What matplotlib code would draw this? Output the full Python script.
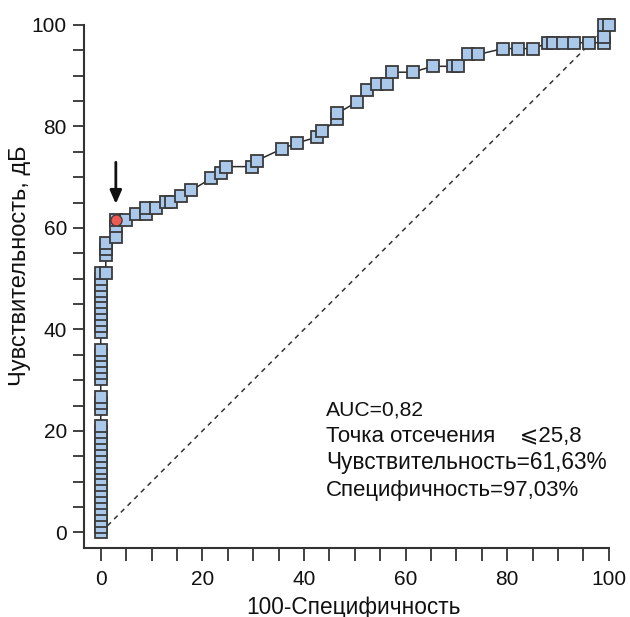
import matplotlib
matplotlib.use("Agg")
import matplotlib.pyplot as plt
from matplotlib.ticker import MultipleLocator

plt.rcParams['font.family'] = ['Liberation Sans', 'DejaVu Sans']

# ROC points (100-Specificity, Sensitivity)
fpr = [0]*19 + [0]*3 + [0]*6 + [0]*11 + [
    0.99, 0.99, 0.99, 0.99, 2.97, 2.97, 2.97, 4.95, 6.93, 8.91, 8.91, 10.89,
    12.87, 13.86, 15.84, 17.82, 21.78, 23.76, 24.75, 29.70, 30.69, 35.64,
    38.61, 42.57, 43.56, 46.53, 46.53, 50.50, 52.48, 54.46, 56.44, 57.43,
    61.39, 65.35, 69.31, 70.30, 72.28, 74.26, 79.21, 82.18, 85.15, 88.12,
    89.11, 91.09, 93.07, 96.04, 99.01, 99.01, 99.01, 100.0]
tpr = [0.00, 1.16, 2.33, 3.49, 4.65, 5.81, 6.98, 8.14, 9.30, 10.47, 11.63,
       12.79, 13.95, 15.12, 16.28, 17.44, 18.60, 19.77, 20.93,
       24.42, 25.58, 26.74,
       30.23, 31.40, 32.56, 33.72, 34.88, 36.05,
       39.53, 40.70, 41.86, 43.02, 44.19, 45.35, 46.51, 47.67, 48.84, 50.00, 51.16,
       51.16, 54.65, 55.81, 56.98, 58.14, 60.47, 61.63, 61.63, 62.79, 62.79,
       63.95, 63.95, 65.12, 65.12, 66.28, 67.44, 69.77, 70.93, 72.09, 72.09,
       73.26, 75.58, 76.74, 77.91, 79.07, 81.40, 82.56, 84.88, 87.21, 88.37,
       88.37, 90.70, 90.70, 91.86, 91.86, 91.86, 94.19, 94.19, 95.35, 95.35,
       95.35, 96.51, 96.51, 96.51, 96.51, 96.51, 96.51, 97.67, 100.0, 100.0]

cut_x = [2.97]
cut_y = [61.63]

x_ticks = [0, 20, 40, 60, 80, 100]
y_ticks = [0, 20, 40, 60, 80, 100]

stats_lines = ["AUC=0,82",
               "Точка отсечения    \u2a7d25,8",
               "Чувствительность=61,63%",
               "Специфичность=97,03%"]
stats_sizes = [15.2, 16.0, 16.3, 16.0]
stats_baselines = [23.1, 17.8, 12.5, 7.2]

fig = plt.figure(figsize=(6.3, 6.17), dpi=100)
ax = fig.add_axes([0.1333, 0.1123, 0.9662 - 0.1333, 0.9595 - 0.1123])

ax.plot([0, 100], [0, 100], linestyle=(0, (3.2, 3)), color='#333333', lw=1.1, zorder=1)
ax.plot(fpr, tpr, color='#2a2a2a', lw=1.1, marker='s', markersize=8.6,
        markerfacecolor='#a9c8ea', markeredgecolor='#3a3a3a', markeredgewidth=1.3,
        zorder=2, clip_on=False)
ax.plot(cut_x, cut_y, linestyle='none', marker='o', markersize=8,
        markerfacecolor='#ee5b55', markeredgecolor='#4a3a3a', markeredgewidth=1.0,
        zorder=3)

ax.annotate('', xy=(cut_x[0], 64.2), xytext=(cut_x[0], 73.5),
            arrowprops=dict(arrowstyle='-|>,head_length=0.8,head_width=0.35',
                            color='#111111', lw=2.0), zorder=4)

ax.set_xlim(-3.3, 100)
ax.set_ylim(-3.0, 100)
ax.set_xticks(x_ticks)
ax.set_yticks(y_ticks)
ax.xaxis.set_minor_locator(MultipleLocator(5))
ax.yaxis.set_minor_locator(MultipleLocator(5))
ax.tick_params(axis='x', which='both', direction='out', length=9.3, width=1.3,
               color='#333333', labelsize=15, pad=6.5, labelcolor='#111111')
ax.tick_params(axis='y', which='both', direction='out', length=8, width=1.3,
               color='#333333', labelsize=15, pad=4.3, labelcolor='#111111')
for s in ['top', 'right']:
    ax.spines[s].set_visible(False)
for s in ['left', 'bottom']:
    ax.spines[s].set_linewidth(1.5)
    ax.spines[s].set_color('#333333')

ax.set_xlabel('100-Специфичность', fontsize=16.3, color='#111111')
ax.xaxis.set_label_coords(0.514, -0.1135)
ax.xaxis.label.set_va('center')
ax.set_ylabel('Чувствительность, дБ', fontsize=17, color='#111111')
ax.yaxis.set_label_coords(-0.122, 0.539)
ax.yaxis.label.set_va('center')

for line, fs, yb in zip(stats_lines, stats_sizes, stats_baselines):
    ax.text(44.4, yb, line, fontsize=fs, va='baseline', ha='left', color='#111111')

fig.savefig('out.png', dpi=100)
